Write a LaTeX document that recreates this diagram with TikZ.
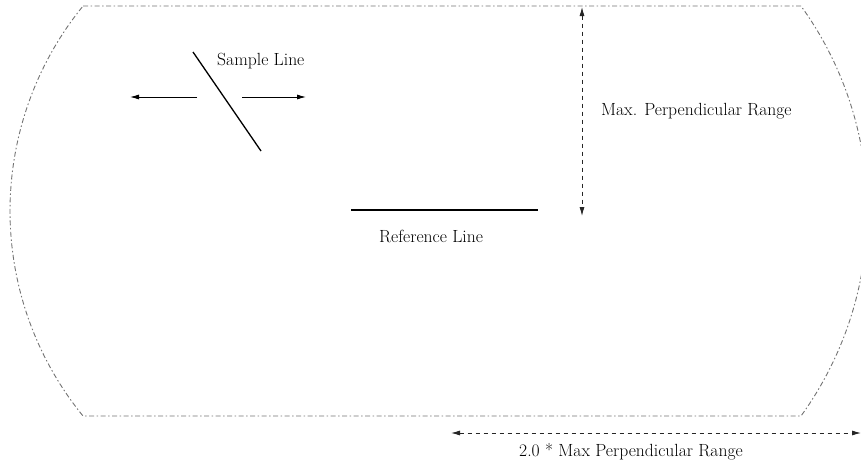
\documentclass[tikz,border=0pt]{standalone}
\usetikzlibrary{arrows.meta}
\begin{document}
\begin{tikzpicture}[x=1pt,y=-1pt,
  boundary/.style={draw=black!55,line width=0.9pt,dash pattern=on 5pt off 2.5pt on 1.5pt off 2.5pt},
  solidline/.style={draw=black,line width=1.3pt},
  arrowline/.style={draw=black,line width=0.8pt,-{Latex[length=9pt,width=5pt]}},
  dimline/.style={draw=black!85,line width=0.8pt,dash pattern=on 4pt off 4pt,{Latex[length=9pt,width=5pt]}-{Latex[length=9pt,width=5pt]}},
  lbl/.style={inner sep=0pt,anchor=base west,font=\fontsize{17.6}{20}\selectfont}]
\useasboundingbox (0,0) rectangle (861,463);
\clip (0,0) rectangle (861,463);
% boundary region
\draw[boundary] (83,6) -- (801,6)
  -- plot[domain=-35.8:35.8,samples=60,smooth] ({517.1+350.2*cos(\x)},{211+350.2*sin(\x)})
  -- (801,416) -- (83,416)
  -- plot[domain=140.8:219.2,samples=60,smooth] ({334.3+324.3*cos(\x)},{211+324.3*sin(\x)})
  -- cycle;
% sample line
\coordinate (s1) at (193,52);
\coordinate (s2) at (261,151);
\draw[solidline] (s1) -- (s2);
\coordinate (la) at (197,97);
\coordinate (lb) at (130,97);
\coordinate (ra) at (242,97);
\coordinate (rb) at (306,97);
\draw[arrowline] (la) -- (lb);
\draw[arrowline] (ra) -- (rb);
\node[lbl] (sl) at (217,65) {Sample Line};
% reference line
\coordinate (r1) at (351,210);
\coordinate (r2) at (538,210);
\draw[solidline] (r1) -- (r2);
\node[lbl] (rl) at (379,242) {Reference Line};
% vertical range
\coordinate (v1) at (582,7);
\coordinate (v2) at (582,216);
\draw[dimline] (v1) -- (v2);
\node[lbl] (mpr) at (601,115) {Max. Perpendicular Range};
% horizontal range
\coordinate (h1) at (451,433);
\coordinate (h2) at (861,433);
\draw[dimline] (h1) -- (h2);
\node[lbl] (tmr) at (519,456) {2.0 * Max Perpendicular Range};
\end{tikzpicture}
\end{document}
